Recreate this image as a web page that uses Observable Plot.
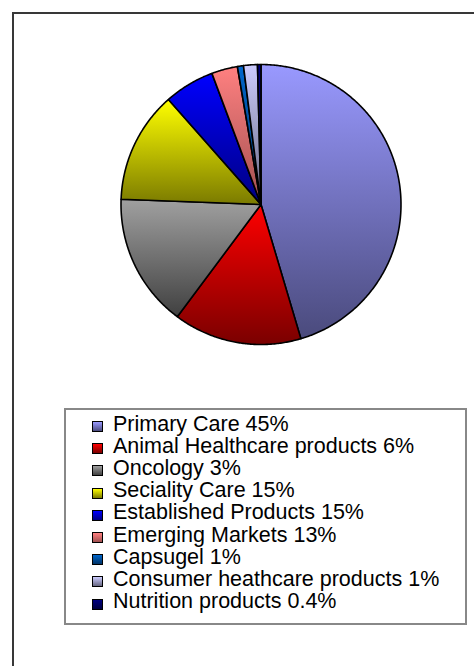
<!DOCTYPE html>
<html>
<head>
<meta charset="utf-8">
<script src="https://cdn.jsdelivr.net/npm/d3@7"></script>
<script src="https://cdn.jsdelivr.net/npm/@observablehq/plot@0.6"></script>
<style>
  html, body { margin: 0; padding: 0; background: #fff; }
  #page { position: relative; width: 474px; height: 666px; overflow: hidden; font-family: "Liberation Sans", Arial, sans-serif; }
  #frame { position: absolute; left: 12px; top: 12px; width: 480px; height: 700px; border: 2px solid #383838; box-sizing: border-box; }
  #chart { position: absolute; left: 0; top: 0; }
  #legend { position: absolute; left: 64px; top: 408px; width: 403px; height: 217px; border: 2px solid #888; box-sizing: border-box; }
  .row { position: absolute; height: 22px; white-space: nowrap; font-size: 21.5px; letter-spacing: 0px; color: #000; line-height: 22px; }
  .sw { position: absolute; left: 26px; width: 9px; height: 9px; border: 1px solid #000; }
  .lab { left: 47px; }
</style>
</head>
<body>
<div id="page">
  <div id="frame"></div>
  <div id="chart"></div>
  <div id="legend"></div>
</div>
<script>
// Segment names as printed in the legend
const names = [
  "Primary Care", "Animal Healthcare products", "Oncology", "Seciality Care",
  "Established Products", "Emerging Markets", "Capsugel",
  "Consumer heathcare products", "Nutrition products"
];
// Legend percentage labels (as printed)
const legendPct = ["45%", "6%", "3%", "15%", "15%", "13%", "1%", "1%", "0.4%"];
// Slice shares as drawn in the pie (%)
const shares = [45.4, 14.8, 15.4, 12.9, 5.8, 3.0, 0.7, 1.6, 0.4];
// Top (light) and bottom (dark) gradient colours
const topColors = ["#9999ff", "#ff0000", "#a0a0a0", "#ffff00", "#0000ff", "#ff8080", "#0066cc", "#ccccff", "#000080"];
const botColors = ["#4a4a7c", "#7a0000", "#404040", "#7a7a00", "#000080", "#a05050", "#003366", "#666680", "#000040"];

// Build slice polygons from the shares (clockwise from 12 o'clock)
const total = d3.sum(shares);
const pts = [];
let acc = 0;
names.forEach((name, i) => {
  const a0 = acc / total * 2 * Math.PI;
  acc += shares[i];
  const a1 = acc / total * 2 * Math.PI;
  const grad = `url(#g${i})`;
  const n = Math.max(2, Math.ceil((a1 - a0) / (Math.PI / 360)));
  pts.push({name, grad, x: 0, y: 0});
  for (let k = 0; k <= n; k++) {
    const a = a0 + (a1 - a0) * k / n;
    pts.push({name, grad, x: Math.sin(a), y: Math.cos(a)});
  }
  pts.push({name, grad, x: 0, y: 0});
});

const defs = () => {
  const d = d3.create("svg:defs");
  names.forEach((_, i) => {
    const g = d.append("linearGradient").attr("id", `g${i}`).attr("x1", 0).attr("y1", 0).attr("x2", 0).attr("y2", 1);
    g.append("stop").attr("offset", "0%").attr("stop-color", topColors[i]);
    g.append("stop").attr("offset", "100%").attr("stop-color", botColors[i]);
  });
  return d.node();
};

const plot = Plot.plot({
  width: 474,
  height: 400,
  margin: 0,
  x: {domain: [-1, 1], range: [120.5, 400.5], axis: null},
  y: {domain: [-1, 1], range: [344, 64], axis: null},
  color: {type: "identity"},
  style: {background: "transparent"},
  marks: [
    defs,
    Plot.line(pts, {x: "x", y: "y", z: "name", fill: "grad", stroke: "#000", strokeWidth: 1.6, strokeLinejoin: "round", curve: "linear"})
  ]
});
document.getElementById("chart").appendChild(plot);

// Legend
const legend = document.getElementById("legend");
names.forEach((name, i) => {
  const top = 2.5 + i * 22.2;
  const sw = document.createElement("div");
  sw.className = "sw";
  sw.style.top = (top + 8.5) + "px";
  sw.style.background = `linear-gradient(to bottom, ${topColors[i]}, ${botColors[i]})`;
  legend.appendChild(sw);
  const lab = document.createElement("div");
  lab.className = "row lab";
  lab.style.top = top + "px";
  lab.textContent = `${name} ${legendPct[i]}`;
  legend.appendChild(lab);
});
</script>
</body>
</html>
